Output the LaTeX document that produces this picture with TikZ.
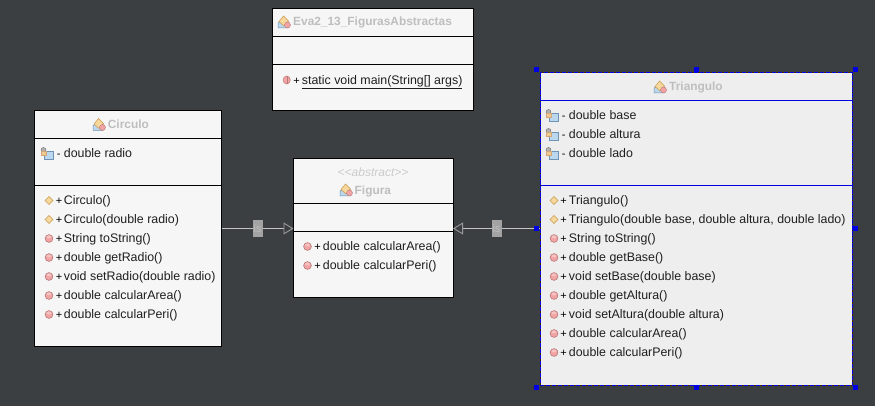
\documentclass[tikz,border=0pt]{standalone}
\usepackage{fontspec}
\setmainfont{Liberation Sans}
\usetikzlibrary{arrows.meta}
\definecolor{bgc}{HTML}{3C3F41}
\definecolor{boxc}{HTML}{F6F6F6}
\definecolor{selc}{HTML}{EEEEEE}
\definecolor{titlec}{HTML}{BEBEBE}
\definecolor{linec}{HTML}{C4C4C4}
\definecolor{tipc}{HTML}{9A9A9A}
\definecolor{isc}{HTML}{A3A3A3}
\definecolor{selb}{HTML}{0000E0}
\definecolor{dia}{HTML}{F6D79C}
\definecolor{diaedge}{HTML}{C89A50}
\definecolor{iconb}{HTML}{BBD7EE}
\definecolor{iconbe}{HTML}{6E93B5}
\definecolor{pinkf}{HTML}{F2A3A3}
\definecolor{pinke}{HTML}{B87878}
\tikzset{
  x=1pt,y=-1pt,
  classbox/.style={draw=black,line width=1pt,fill=boxc,inner sep=0pt,outer sep=0pt,anchor=north west},
  selbox/.style={draw=none,fill=selc,inner sep=0pt,outer sep=0pt,anchor=north west},
  member/.style={anchor=base west,inner sep=0pt,font=\fontsize{12.4}{14}\selectfont,text=black!88},
  sign/.style={anchor=base,inner sep=0pt,font=\fontsize{11}{13}\selectfont,text=black},
  titletext/.style={anchor=base west,inner sep=0pt,font=\fontsize{11.9}{14}\selectfont\bfseries,text=titlec},
  stereo/.style={anchor=base,inner sep=0pt,font=\fontsize{12}{14}\selectfont\itshape,text=titlec!80!white},
  gen/.style={draw=linec,line width=0.9pt,-{Triangle[open,length=10pt,width=12pt,color=tipc,line width=0.9pt]}},
  islabel/.style={fill=isc,minimum width=10pt,minimum height=17pt,inner sep=0pt,font=\fontsize{11}{13}\selectfont,text=isc!70!white},
  handle/.style={fill=blue!90!black,draw=none,minimum size=5pt,inner sep=0pt},
  pics/classicon/.style={code={
    \filldraw[fill=iconb,draw=iconbe,line width=.5pt] (-6,6) -- (-6,1) -- (-2,-1) -- (4,-1) -- (4,6) -- cycle;
    \filldraw[fill=dia,draw=diaedge,line width=.5pt] (-5,-0.5) -- (-0.5,-6) -- (4.5,-1) -- (0,4) -- cycle;
    \filldraw[fill=pinkf,draw=pinke,line width=.4pt] (3.5,3) circle (3);
  }},
  pics/attricon/.style={code={
    \filldraw[fill=iconb,draw=iconbe,line width=.7pt] (-2.5,-2.5) rectangle (6,5.5);
    \filldraw[fill=gray!60!white,draw=gray!70!black,line width=.3pt] (-3.5,-3.5) circle (2.5);
    \filldraw[fill=dia!85!brown,draw=brown!70!white,line width=.4pt] (-6,-2.5) rectangle (-1,1.5);
  }},
  pics/ctoricon/.style={code={
    \filldraw[fill=dia,draw=diaedge,line width=.6pt] (-4,0) -- (0,-4) -- (4,0) -- (0,4) -- cycle;
  }},
  pics/methicon/.style={code={
    \filldraw[fill=pinkf,draw=pinke,line width=.6pt] (0,0) circle (3.9);
    \fill[white,opacity=.35] (0,-1.6) ellipse (2.4 and 1.5);
  }},
  pics/mainicon/.style={code={
    \filldraw[fill=pinkf,draw=pinke,line width=.5pt] (0,0) ellipse (3.6 and 4);
    \draw[pinke,line width=.4pt] (0,-4) -- (0,4);
  }},
}
% #1 node name, #2 icon, #3 icon x, #4 sign x, #5 text x, #6 row centre y, #7 sign, #8 text
\newcommand{\memberrow}[8]{%
  \pic at (#3,#6) {#2};
  \node[sign] (#1s) at (#4,#6+4.2) {#7};
  \node[member] (#1) at (#5,#6+4.2) {#8};
}
\begin{document}
\begin{tikzpicture}
\useasboundingbox (0,0) rectangle (875,406);
\fill[bgc] (0,0) rectangle (875,406);

% class boxes
\node[classbox,minimum width=187pt,minimum height=236pt] (circulo) at (34.5,110.5) {};
\node[classbox,minimum width=159.5pt,minimum height=139pt] (figura) at (293.5,158.5) {};
\node[classbox,minimum width=200.5pt,minimum height=102.5pt] (eva) at (272.5,8.5) {};
\node[selbox,minimum width=312.5pt,minimum height=312.5pt] (triangulo) at (540,72.5) {};

% compartments
\draw[black,line width=1pt] (34.5,138.5) -- (221.5,138.5) (34.5,185.5) -- (221.5,185.5);
\draw[black,line width=1pt] (293.5,203.5) -- (453,203.5) (293.5,231.5) -- (453,231.5);
\draw[black,line width=1pt] (272.5,36.5) -- (473,36.5) (272.5,64.5) -- (473,64.5);
\draw[selb,line width=1pt] (540,100.5) -- (852.5,100.5) (540,185.5) -- (852.5,185.5);

% selected outline
\draw[black!70!orange,line width=.8pt] (triangulo.north west) rectangle (triangulo.south east);
\draw[selb,line width=1pt,dash pattern=on 4.5pt off 1.5pt] (triangulo.north west) rectangle (triangulo.south east);

% titles
\pic at (99,124.5) {classicon};
\node[titletext] (tc) at (107.7,128.6) {Circulo};
\node[stereo] (ta) at (373,176.6) {{<}{<}abstract{>}{>}};
\pic at (346,190) {classicon};
\node[titletext] (tf) at (354.5,194) {Figura};
\pic at (284,22) {classicon};
\node[titletext] (te) at (293,26) {Eva2\_13\_FigurasAbstractas};
\pic at (660,87) {classicon};
\node[titletext] (tt) at (669,91) {Triangulo};

% Circulo members
\memberrow{c1}{attricon}{47}{58.7}{63.7}{153.5}{-}{double radio}
\memberrow{c2}{ctoricon}{49}{59}{63.7}{200.5}{+}{Circulo()}
\memberrow{c3}{ctoricon}{49}{59}{63.7}{219.5}{+}{Circulo(double radio)}
\memberrow{c4}{methicon}{49}{59}{63.7}{238.5}{+}{String toString()}
\memberrow{c5}{methicon}{49}{59}{63.7}{257.5}{+}{double getRadio()}
\memberrow{c6}{methicon}{49}{59}{63.7}{276.5}{+}{void setRadio(double radio)}
\memberrow{c7}{methicon}{49}{59}{63.7}{295.5}{+}{double calcularArea()}
\memberrow{c8}{methicon}{49}{59}{63.7}{314.5}{+}{double calcularPeri()}

% Figura members
\memberrow{f1}{methicon}{307.5}{317.5}{322.7}{246.5}{+}{double calcularArea()}
\memberrow{f2}{methicon}{307.5}{317.5}{322.7}{265.5}{+}{double calcularPeri()}

% Eva members
\pic at (286.7,80) {mainicon};
\node[sign] (e1s) at (296.5,84.2) {+};
\node[member] (e1) at (301.7,84.2) {\underline{static void main(String[] args)}};

% Triangulo members
\memberrow{t1}{attricon}{552}{563.7}{568.7}{115.5}{-}{double base}
\memberrow{t2}{attricon}{552}{563.7}{568.7}{134.5}{-}{double altura}
\memberrow{t3}{attricon}{552}{563.7}{568.7}{153.5}{-}{double lado}
\memberrow{t4}{ctoricon}{554}{563.7}{568.7}{200.5}{+}{Triangulo()}
\memberrow{t5}{ctoricon}{554}{563.7}{568.7}{219.5}{+}{Triangulo(double base, double altura, double lado)}
\memberrow{t6}{methicon}{554}{563.7}{568.7}{238.5}{+}{String toString()}
\memberrow{t7}{methicon}{554}{563.7}{568.7}{257.5}{+}{double getBase()}
\memberrow{t8}{methicon}{554}{563.7}{568.7}{276.5}{+}{void setBase(double base)}
\memberrow{t9}{methicon}{554}{563.7}{568.7}{295.5}{+}{double getAltura()}
\memberrow{t10}{methicon}{554}{563.7}{568.7}{314.5}{+}{void setAltura(double altura)}
\memberrow{t11}{methicon}{554}{563.7}{568.7}{333.5}{+}{double calcularArea()}
\memberrow{t12}{methicon}{554}{563.7}{568.7}{352.5}{+}{double calcularPeri()}

% generalisation connectors
\coordinate (lane) at (0,228.5);
\draw[gen] (circulo.east |- lane) -- node[islabel,pos=.5] (isl) {is} (figura.west |- lane);
\draw[gen] (triangulo.west |- lane) -- node[islabel,pos=.5] (isr) {is} (figura.east |- lane);

% selection handles
\foreach \hx/\hy/\hn in {536.5/69.5/h1,696.5/69.5/h2,855.5/69.5/h3,536.5/228/h4,855.5/228/h5,536.5/387/h6,696.5/387/h7,855.5/387/h8}
  \node[handle] (\hn) at (\hx,\hy) {};
\end{tikzpicture}
\end{document}
